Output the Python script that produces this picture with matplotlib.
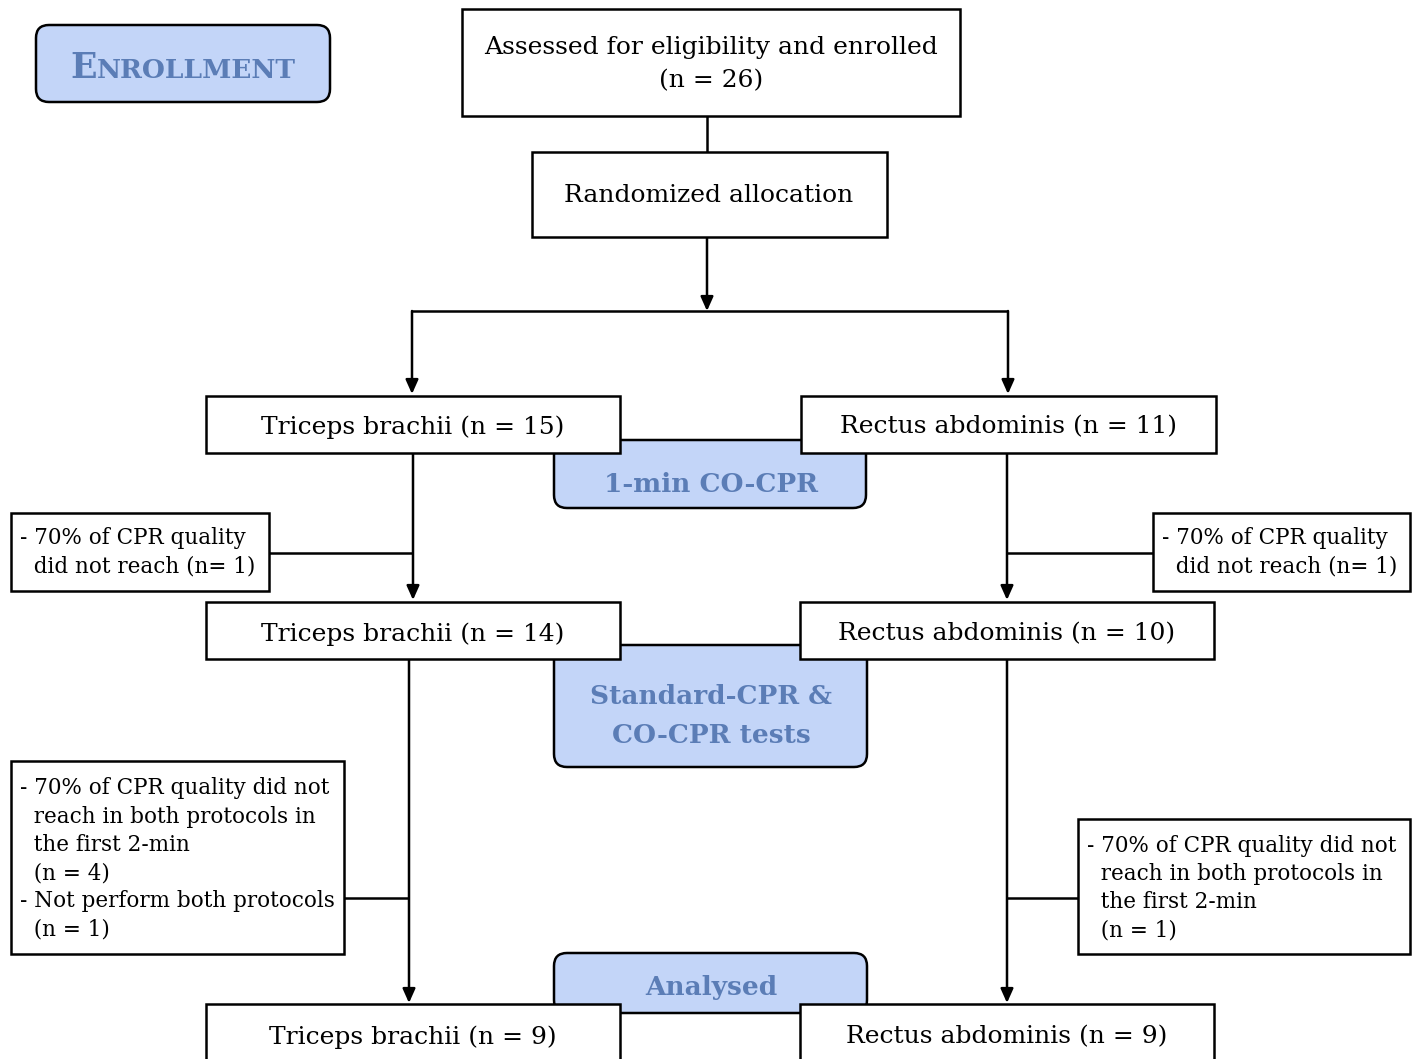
import matplotlib
matplotlib.use("Agg")
import matplotlib.pyplot as plt
from matplotlib.patches import FancyBboxPatch, Rectangle

# ---- content ----
top_lines = ["Assessed for eligibility and enrolled", "(n = 26)"]
random_label = "Randomized allocation"
groups = ["Triceps brachii", "Rectus abdominis"]
n_alloc = [15, 11]
n_after_1min = [14, 10]
n_analysed = [9, 9]
stage_labels = ["1-min CO-CPR", "Standard-CPR &\nCO-CPR tests", "Analysed"]
excl1 = ["- 70% of CPR quality\n  did not reach (n= 1)", "- 70% of CPR quality\n  did not reach (n= 1)"]
excl2 = ["- 70% of CPR quality did not\n  reach in both protocols in\n  the first 2-min\n  (n = 4)\n- Not perform both protocols\n  (n = 1)",
         "- 70% of CPR quality did not\n  reach in both protocols in\n  the first 2-min\n  (n = 1)"]

W, H = 1416, 1059
fig = plt.figure(figsize=(W / 100, H / 100), dpi=100)
ax = fig.add_axes([0, 0, 1, 1])
ax.set_xlim(0, W)
ax.set_ylim(H, 0)
ax.axis("off")

FONT = "DejaVu Serif"
BLUE_FILL = "#c3d5f8"
BLUE_TEXT = "#5b7db6"
LW = 1.8

def box(x0, y0, x1, y1, z=3):
    ax.add_patch(Rectangle((x0, y0), x1 - x0, y1 - y0, facecolor="white",
                           edgecolor="black", lw=LW, zorder=z))

def stage(x0, y0, x1, y1, z=1):
    ax.add_patch(FancyBboxPatch((x0, y0), x1 - x0, y1 - y0,
                                boxstyle="round,pad=0,rounding_size=13",
                                facecolor=BLUE_FILL, edgecolor="black", lw=LW, zorder=z))

def line(xs, ys):
    ax.plot(xs, ys, color="black", lw=LW, zorder=2, solid_capstyle="butt")

def arrow(x, y0, y1):
    ax.annotate("", xy=(x, y1), xytext=(x, y0),
                arrowprops=dict(arrowstyle="-|>,head_length=0.85,head_width=0.38",
                                color="black", lw=LW, shrinkA=0, shrinkB=0),
                zorder=2)

def txt(x, y, s, size=17.5, ha="center", ls=1.25, **kw):
    ax.text(x, y, s, ha=ha, va="center", fontsize=size, family=FONT,
            zorder=5, linespacing=ls, **kw)

# Enrollment label (small caps)
stage(36, 25, 330, 102, z=1)
r = fig.canvas.get_renderer()
t1 = ax.text(0, 0, "E", fontsize=25, family=FONT, weight="bold", color=BLUE_TEXT)
t2 = ax.text(0, 0, "NROLLMENT", fontsize=19, family=FONT, weight="bold", color=BLUE_TEXT)
w1 = t1.get_window_extent(r).width
w2 = t2.get_window_extent(r).width
xs = 183 - (w1 + w2) / 2
t1.set_position((xs, 78)); t1.set_va("baseline")
t2.set_position((xs + w1, 78)); t2.set_va("baseline")

MAIN = 18
SIDE = 15.5
STAGE = 19

# top boxes
box(462, 9, 960, 116)
txt(711, 64, "\n".join(top_lines), size=MAIN, ls=1.55)
line([707, 707], [116, 152])
box(532, 152, 887, 237)
txt(709, 196, random_label, size=MAIN)
arrow(707, 237, 311)
line([412, 1008], [311, 311])
arrow(412, 311, 394)
arrow(1008, 311, 394)

# allocation boxes
box(206, 396, 620, 453)
box(801, 396, 1216, 453)
txt(413, 427, f"{groups[0]} (n = {n_alloc[0]})", size=MAIN)
txt(1008, 427, f"{groups[1]} (n = {n_alloc[1]})", size=MAIN)

stage(554, 440, 866, 508)
txt(711, 484, stage_labels[0], size=STAGE, color=BLUE_TEXT, weight="bold")

arrow(413, 453, 600)
arrow(1007, 453, 600)

box(11, 513, 269, 591)
txt(20, 552, excl1[0], size=SIDE, ha="left", ls=1.37)
line([269, 413], [553, 553])
box(1153, 513, 1410, 591)
txt(1162, 552, excl1[1], size=SIDE, ha="left", ls=1.37)
line([1007, 1153], [553, 553])

box(206, 602, 620, 659)
box(800, 602, 1214, 659)
txt(413, 634, f"{groups[0]} (n = {n_after_1min[0]})", size=MAIN)
txt(1007, 634, f"{groups[1]} (n = {n_after_1min[1]})", size=MAIN)

stage(554, 645, 867, 767)
txt(711, 716, stage_labels[1], size=STAGE, color=BLUE_TEXT, weight="bold", ls=1.68)

arrow(409, 659, 1003)
arrow(1007, 659, 1003)

box(11, 761, 344, 954)
txt(20, 859, excl2[0], size=SIDE, ha="left", ls=1.37)
line([344, 409], [898, 898])
box(1078, 819, 1410, 954)
txt(1087, 888, excl2[1], size=SIDE, ha="left", ls=1.37)
line([1007, 1078], [898, 898])

stage(554, 953, 867, 1013)
txt(711, 987, stage_labels[2], size=STAGE, color=BLUE_TEXT, weight="bold")

box(206, 1004, 620, 1080)
box(800, 1004, 1214, 1080)
txt(413, 1037, f"{groups[0]} (n = {n_analysed[0]})", size=MAIN)
txt(1007, 1037, f"{groups[1]} (n = {n_analysed[1]})", size=MAIN)

fig.savefig("out.png", dpi=100)
